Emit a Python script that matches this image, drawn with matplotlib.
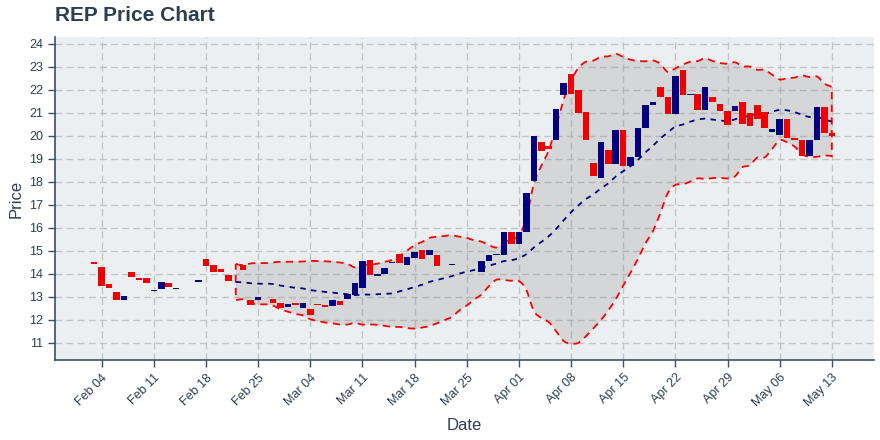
import matplotlib
matplotlib.use('Agg')
import matplotlib.pyplot as plt
import matplotlib.dates as mdates
from matplotlib.path import Path
from matplotlib.patches import PathPatch
import pandas as pd
import numpy as np

plt.rcParams['font.family'] = ['Liberation Sans', 'DejaVu Sans']

start_date = '2019-02-03'
opens = [14.53, 14.32, 13.57, 13.23, 12.85, 14.10, 13.84, 13.84, 13.27, 13.36,
         13.62, 13.36, 13.45, 13.53, 13.66, 14.66, 14.40, 14.23, 13.94, 13.88,
         14.40, 12.88, 12.88, 12.93, 12.92, 12.75, 12.57, 12.75, 12.53, 12.48,
         12.70, 12.66, 12.61, 12.83, 12.92, 13.09, 13.40, 14.62, 13.92, 14.01,
         14.46, 14.88, 14.37, 14.71, 15.06, 14.81, 14.80, 14.35, 14.39, 14.40,
         14.30, 14.10, 14.07, 14.58, 14.80, 14.84, 15.80, 15.32, 15.80, 18.03,
         19.73, 19.55, 19.83, 21.79, 22.69, 21.99, 21.03, 18.81, 18.17, 19.38,
         18.77, 20.25, 18.68, 19.07, 20.35, 21.35, 22.13, 21.69, 20.96, 22.87,
         21.79, 21.82, 21.12, 21.69, 21.38, 21.08, 21.08, 21.47, 20.98, 21.34,
         21.03, 20.16, 20.03, 20.73, 19.90, 19.81, 19.12, 19.81, 21.25, 20.12]
closes = [14.42, 13.49, 13.40, 12.88, 13.02, 13.85, 13.75, 13.59, 13.30, 13.66,
          13.41, 13.40, 13.45, 13.50, 13.75, 14.36, 14.07, 14.07, 13.71, 13.85,
          14.18, 12.66, 13.00, 12.89, 12.75, 12.53, 12.70, 12.66, 12.75, 12.22,
          12.66, 12.57, 12.88, 12.66, 13.14, 13.62, 14.58, 13.97, 14.01, 14.27,
          14.53, 14.46, 14.75, 14.93, 14.66, 15.02, 14.33, 14.35, 14.45, 14.40,
          14.30, 14.10, 14.58, 14.80, 14.85, 15.80, 15.32, 15.80, 17.50, 20.00,
          19.33, 19.43, 21.17, 22.30, 21.83, 21.00, 19.83, 18.26, 19.73, 18.77,
          20.25, 18.68, 19.07, 20.34, 21.34, 21.47, 21.70, 20.96, 22.60, 21.79,
          21.83, 21.12, 22.13, 21.47, 21.08, 20.47, 21.30, 20.52, 20.44, 20.73,
          20.34, 20.29, 20.73, 19.90, 19.81, 19.12, 19.81, 21.25, 20.12, 20.00]
x_tick_labels_start = '2019-02-04'
x_tick_labels_end = '2019-05-13'

dates = pd.date_range(start_date, periods=len(closes), freq='D')
df = pd.DataFrame({'open': opens, 'close': closes}, index=dates)
window = 20
sma = df['close'].rolling(window).mean()
std = df['close'].rolling(window).std()
upper = sma + 2 * std
lower = sma - 2 * std


def spline_segments(xs, ys, first=True):
    """Catmull-Rom style smooth path (cubic Bezier) through the given points."""
    pts = np.column_stack([xs, ys])
    n = len(pts)
    verts, codes = [], []
    if first:
        verts.append(pts[0]); codes.append(Path.MOVETO)
    else:
        verts.append(pts[0]); codes.append(Path.LINETO)
    for i in range(n - 1):
        p0 = pts[i - 1] if i > 0 else pts[i]
        p1 = pts[i]
        p2 = pts[i + 1]
        p3 = pts[i + 2] if i + 2 < n else pts[i + 1]
        c1 = p1 + (p2 - p0) / 6.0
        c2 = p2 - (p3 - p1) / 6.0
        verts += [c1, c2, p2]
        codes += [Path.CURVE4] * 3
    return verts, codes


text_color = '#2c3e50'
fig = plt.figure(figsize=(8.8, 4.4), dpi=100)
ax = fig.add_axes([0.0625, 0.182, 0.931, 0.734])
ax.set_facecolor('#ECEFF1')

xd = mdates.date2num(dates)
mask = ~np.isnan(upper.values)
xm = xd[mask]
um = upper.values[mask]
lm = lower.values[mask]
sm = sma.values[mask]

# Bollinger band: closed, filled outline
v1, c1 = spline_segments(xm, um, first=True)
v2, c2 = spline_segments(xm[::-1], lm[::-1], first=False)
verts = v1 + v2 + [v1[0]]
codes = c1 + c2 + [Path.CLOSEPOLY]
band_path = Path(np.array(verts), codes)
ax.add_patch(PathPatch(band_path, facecolor=(0.5, 0.5, 0.5, 0.22), edgecolor='none', zorder=2))
ax.add_patch(PathPatch(band_path, facecolor='none', edgecolor='#FF0000',
                       linestyle=(0, (4, 3)), lw=1.3, zorder=3))

vs, cs = spline_segments(xm, sm, first=True)
ax.add_patch(PathPatch(Path(np.array(vs), cs), facecolor='none', edgecolor='#00008B',
                       linestyle=(0, (3, 3)), lw=1.3, zorder=3))

o = df['open'].values
c = df['close'].values
up = c >= o
bw = 0.88
ax.bar(xd[up], (c - o)[up], bottom=o[up], width=bw, color='#000080', linewidth=0, zorder=4)
ax.bar(xd[~up], (o - c)[~up], bottom=c[~up], width=bw, color='#F00000', linewidth=0, zorder=4)

ax.set_xlim(mdates.date2num(pd.Timestamp('2019-02-04')) - 6.26,
            mdates.date2num(pd.Timestamp('2019-02-04')) + 103.7)
ax.set_ylim(10.26, 24.3)
ax.set_yticks(np.arange(11, 25, 1))
ticks = pd.date_range(x_tick_labels_start, x_tick_labels_end, freq='7D')
ax.set_xticks(mdates.date2num(ticks))
ax.set_xticklabels([t.strftime('%b %d') for t in ticks], rotation=45,
                   ha='right', rotation_mode='anchor')

ax.grid(True, color='#C4C4C4', linestyle=(0, (5, 3)), linewidth=1, zorder=0)
ax.set_axisbelow(True)
for s in ['top', 'right']:
    ax.spines[s].set_visible(False)
for s in ['left', 'bottom']:
    ax.spines[s].set_color('#3d4f63')
    ax.spines[s].set_linewidth(1.2)
ax.tick_params(axis='both', colors='#3d4f63', labelcolor=text_color, labelsize=9,
               length=5, width=1)

ax.set_xlabel('Date', fontsize=12, color=text_color, labelpad=6)
ax.set_ylabel('Price', fontsize=12, color=text_color, labelpad=4)
fig.text(0.0625, 0.965, 'REP Price Chart', fontsize=15, fontweight='bold',
         color=text_color, ha='left', va='center')

fig.savefig('out.png', dpi=100)
